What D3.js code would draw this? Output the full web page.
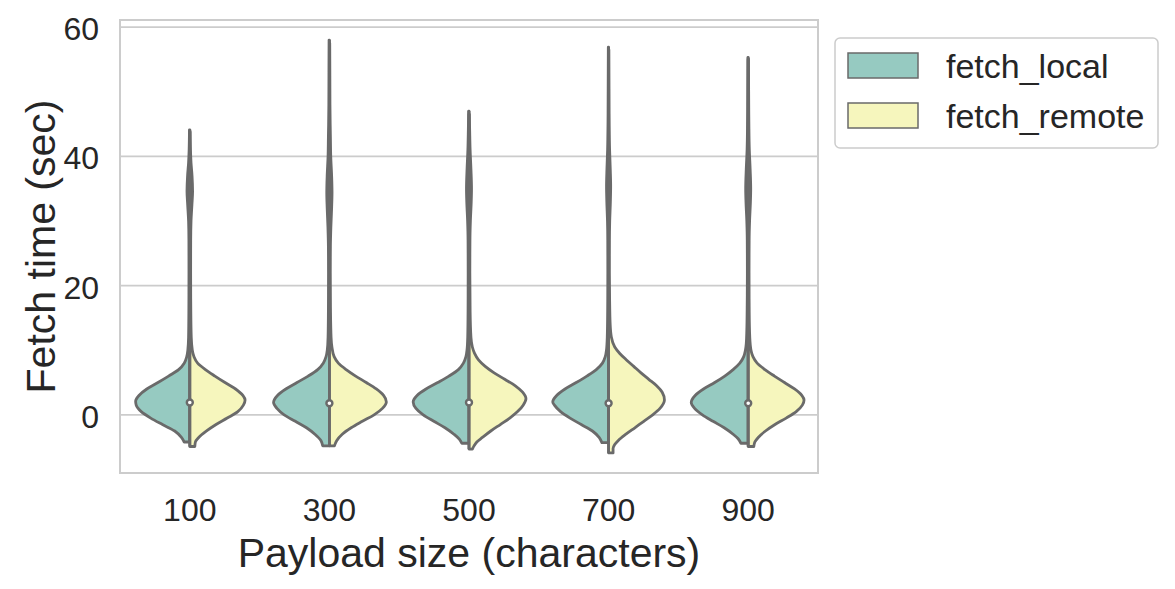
<!DOCTYPE html>
<html>
<head>
<meta charset="utf-8">
<script src="https://cdn.jsdelivr.net/npm/d3@7"></script>
<style>
  body { margin: 0; background: #fff; }
  text { font-family: "Liberation Sans", Arial, sans-serif; fill: #262626; }
</style>
</head>
<body>
<div id="chart"></div>
<script>
// categories and series
var categories = ["100", "300", "500", "700", "900"];
var seriesNames = ["fetch_local", "fetch_remote"];
var seriesColors = ["#96cac1", "#f6f6bd"];
var yTicks = [0, 20, 40, 60];

// median fetch time per payload size
var medians = [1.9, 1.8, 1.9, 1.8, 1.8];

// density profiles [value, relative density]
var localDensity = [
  [[-4.2,0.1],[-3.5,0.15],[-2.5,0.27],[-1.5,0.49],[-0.5,0.7],[0.5,0.87],[1.5,0.96],[2.1,0.97],[3,0.91],[4,0.77],[5,0.57],[6,0.38],[7,0.2],[8,0.1],[9,0.055],[10,0.035],[12,0.022],[16,0.017],[22,0.015],[27,0.016],[30,0.022],[32.5,0.038],[34.6,0.05],[37,0.04],[39,0.022],[41,0.012],[44.1,0.006]],
  [[-4.8,0.12],[-4,0.15],[-3,0.26],[-2,0.41],[-1,0.61],[0,0.81],[1,0.94],[1.9,1.0],[3,0.93],[4,0.78],[5,0.58],[6,0.38],[7,0.21],[8,0.11],[9,0.06],[10,0.038],[12,0.024],[16,0.018],[22,0.016],[26,0.018],[29,0.026],[32,0.04],[34.4,0.047],[37,0.04],[40,0.024],[43,0.018],[45,0.014],[48,0.01],[53,0.008],[58,0.006]],
  [[-4.4,0.13],[-3.8,0.17],[-3,0.27],[-2,0.43],[-1,0.63],[0,0.82],[1,0.95],[2,1.0],[3,0.93],[4,0.77],[5,0.56],[6,0.36],[7,0.19],[8,0.1],[9,0.055],[10,0.036],[12,0.023],[16,0.017],[22,0.015],[27,0.017],[30,0.025],[33,0.04],[35,0.045],[38,0.035],[41,0.02],[44,0.012],[47,0.006]],
  [[-4.3,0.12],[-3.5,0.17],[-2.5,0.29],[-1.5,0.49],[-0.5,0.69],[0.5,0.86],[1.5,0.97],[2,1.0],[3,0.93],[4,0.78],[5,0.58],[6,0.39],[7,0.22],[8,0.11],[9,0.06],[10,0.038],[12,0.024],[16,0.017],[22,0.014],[27,0.015],[30,0.02],[33,0.032],[35.4,0.037],[38,0.03],[41,0.018],[45,0.011],[50,0.008],[56.9,0.005]],
  [[-4.4,0.13],[-3.7,0.18],[-3,0.27],[-2,0.43],[-1,0.63],[0,0.82],[1,0.96],[1.9,1.02],[3,0.95],[4,0.8],[5,0.6],[6,0.42],[7,0.27],[8,0.15],[9,0.08],[10,0.05],[11,0.035],[13,0.025],[17,0.018],[22,0.015],[27,0.017],[30,0.025],[33,0.04],[35,0.045],[38,0.035],[41,0.02],[45,0.012],[50,0.008],[55.3,0.005]]
];

var remoteDensity = [
  [[-4.9,0.09],[-4.2,0.1],[-3.5,0.16],[-2.5,0.3],[-1.5,0.47],[-0.5,0.67],[0.5,0.86],[1.5,0.96],[2.3,0.99],[3,0.95],[4,0.82],[5,0.63],[6,0.45],[7,0.28],[8,0.14],[9,0.075],[10,0.045],[12,0.026],[16,0.018],[22,0.015],[27,0.016],[30,0.022],[32.5,0.038],[34.6,0.05],[37,0.04],[39,0.022],[41,0.012],[43.8,0.006]],
  [[-4.8,0.09],[-4,0.13],[-3,0.23],[-2,0.39],[-1,0.59],[0,0.8],[1,0.95],[2,1.02],[3,0.97],[4,0.84],[5,0.66],[6,0.47],[7,0.3],[8,0.16],[9,0.085],[10.5,0.045],[12,0.03],[16,0.02],[22,0.016],[26,0.018],[29,0.026],[32,0.04],[34.4,0.047],[37,0.04],[40,0.024],[43,0.018],[45,0.014],[48,0.01],[53,0.008],[57.5,0.006]],
  [[-5.3,0.06],[-4.8,0.09],[-4.2,0.14],[-3.5,0.24],[-2.5,0.39],[-1.5,0.56],[-0.5,0.73],[0.5,0.87],[1.5,0.97],[2.5,1.02],[3.5,0.96],[4.5,0.83],[5.5,0.64],[6.5,0.45],[7.5,0.29],[8.5,0.17],[9.5,0.1],[10.5,0.06],[12,0.035],[16,0.02],[22,0.015],[27,0.017],[30,0.025],[33,0.04],[35,0.045],[38,0.035],[41,0.02],[44,0.012],[46.5,0.006]],
  [[-5.9,0.08],[-5.2,0.08],[-4.6,0.11],[-4,0.17],[-3,0.31],[-2,0.47],[-1,0.63],[0,0.79],[1,0.92],[2.3,1.0],[3.5,0.96],[4.5,0.86],[5.5,0.72],[6.5,0.58],[7.5,0.45],[8.5,0.32],[9.5,0.2],[10.5,0.11],[12,0.05],[14,0.028],[18,0.018],[22,0.014],[27,0.015],[30,0.02],[33,0.032],[35.4,0.037],[38,0.03],[41,0.018],[45,0.011],[50,0.008],[56.5,0.005]],
  [[-4.9,0.1],[-4.2,0.12],[-3.5,0.18],[-2.5,0.31],[-1.5,0.48],[-0.5,0.68],[0.5,0.86],[1.5,0.97],[2.3,1.0],[3,0.96],[4,0.83],[5,0.65],[6,0.47],[7,0.3],[8,0.16],[9,0.085],[10,0.05],[12,0.028],[16,0.018],[22,0.015],[27,0.017],[30,0.025],[33,0.04],[35,0.045],[38,0.035],[41,0.02],[45,0.012],[50,0.008],[55,0.005]]
];

function init() {
    var w = 1175, h = 589;
    var left = 120, right = 818, top = 20, bottom = 473;
    var gray = "#6a6a6a";

    var svg = d3.select("#chart").append("svg")
                .attr("width", w)
                .attr("height", h);

    var x = d3.scaleBand().domain(categories).range([left, right]).padding(0);
    var y = d3.scaleLinear().domain([-9.0, 61.1]).range([bottom, top]);
    // half violin width: 0.4 of a band
    var dens = d3.scaleLinear().domain([0, 1]).range([0, x.bandwidth() * 0.4]);

    // grid lines
    svg.selectAll("line.grid")
       .data(yTicks)
       .enter().append("line")
       .attr("class", "grid")
       .attr("x1", left).attr("x2", right)
       .attr("y1", d => y(d)).attr("y2", d => y(d))
       .attr("stroke", "#cccccc")
       .attr("stroke-width", 1.8);

    // frame
    svg.append("rect")
       .attr("x", left).attr("y", top)
       .attr("width", right - left).attr("height", bottom - top)
       .attr("fill", "none")
       .attr("stroke", "#cccccc")
       .attr("stroke-width", 2);

    // violins
    var groups = [localDensity, remoteDensity];
    categories.forEach(function(cat, i) {
        var cx = x(cat) + x.bandwidth() / 2;
        groups.forEach(function(g, s) {
            var sign = s === 0 ? -1 : 1;
            var area = d3.area()
                .y(d => y(d[0]))
                .x0(cx)
                .x1(d => cx + sign * dens(d[1]))
                .curve(d3.curveMonotoneY);
            svg.append("path")
               .datum(g[i])
               .attr("d", area)
               .attr("fill", seriesColors[s])
               .attr("stroke", gray)
               .attr("stroke-width", 2.8)
               .attr("stroke-linejoin", "round");
        });
        // inner whisker line over the full range
        var lo = Math.min(localDensity[i][0][0], remoteDensity[i][0][0]);
        var hi = Math.max(localDensity[i][localDensity[i].length - 1][0],
                          remoteDensity[i][remoteDensity[i].length - 1][0]);
        svg.append("line")
           .attr("x1", cx).attr("x2", cx)
           .attr("y1", y(lo)).attr("y2", y(hi))
           .attr("stroke", gray)
           .attr("stroke-width", 2.8);
        // median dot
        svg.append("circle")
           .attr("cx", cx)
           .attr("cy", y(medians[i]))
           .attr("r", 3)
           .attr("fill", "#fff")
           .attr("stroke", gray)
           .attr("stroke-width", 2.4);
    });

    // y tick labels
    svg.selectAll("text.ytick")
       .data(yTicks)
       .enter().append("text")
       .attr("class", "ytick")
       .attr("x", 99)
       .attr("y", d => y(d) + 2)
       .attr("text-anchor", "end")
       .attr("dominant-baseline", "central")
       .style("font-size", "32px")
       .text(d => d);

    // x tick labels
    svg.selectAll("text.xtick")
       .data(categories)
       .enter().append("text")
       .attr("class", "xtick")
       .attr("x", d => x(d) + x.bandwidth() / 2)
       .attr("y", 521)
       .attr("text-anchor", "middle")
       .style("font-size", "32px")
       .text(d => d);

    // axis titles
    svg.append("text")
       .attr("x", (left + right) / 2)
       .attr("y", 567)
       .attr("text-anchor", "middle")
       .style("font-size", "41px")
       .text("Payload size (characters)");

    svg.append("text")
       .attr("transform", "translate(55," + ((top + bottom) / 2) + ") rotate(-90)")
       .attr("text-anchor", "middle")
       .style("font-size", "41px")
       .text("Fetch time (sec)");

    // legend
    var legend = svg.append("g");
    legend.append("rect")
          .attr("x", 835).attr("y", 38)
          .attr("width", 323).attr("height", 110)
          .attr("rx", 5)
          .attr("fill", "#fff")
          .attr("stroke", "#cccccc")
          .attr("stroke-width", 1.5);

    seriesNames.forEach(function(name, s) {
        var ly = 53 + s * 50;
        legend.append("rect")
              .attr("x", 848).attr("y", ly)
              .attr("width", 70).attr("height", 25)
              .attr("fill", seriesColors[s])
              .attr("stroke", gray)
              .attr("stroke-width", 1.5);
        legend.append("text")
              .attr("x", 946)
              .attr("y", ly + 12.5)
              .attr("dominant-baseline", "central")
              .style("font-size", "34px")
              .text(name);
    });
}

window.onload = init;
</script>
</body>
</html>
